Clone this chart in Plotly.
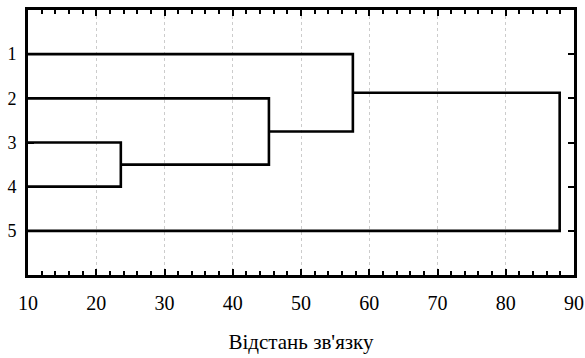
import plotly.graph_objects as go

# Data
leaf_labels = ["1", "2", "3", "4", "5"]
leaf_pos = [1, 2, 3, 4, 5]
link_a = [2, 1, 0, 7]      # child index (0-4 leaves, 5+k = k-th merge)
link_b = [3, 5, 6, 4]
link_dist = [23.6, 45.3, 57.6, 87.9]
x_ticks = [10, 20, 30, 40, 50, 60, 70, 80, 90]
x_label = "Відстань зв'язку"
x_min = 10

# Build dendrogram segments
node_x = [x_min] * len(leaf_pos)
node_y = list(leaf_pos)
xs, ys = [], []
for a, b, d in zip(link_a, link_b, link_dist):
    ya, yb = node_y[a], node_y[b]
    xs += [node_x[a], d, d, node_x[b], None]
    ys += [ya, ya, yb, yb, None]
    node_x.append(d)
    node_y.append((ya + yb) / 2)

fig = go.Figure()
fig.add_trace(go.Scatter(x=xs, y=ys, mode="lines",
                         line=dict(color="black", width=2.6),
                         hoverinfo="skip", showlegend=False))

serif = "'Liberation Serif', 'DejaVu Serif', serif"
fig.update_layout(
    width=585, height=358,
    margin=dict(l=28, r=11, t=10, b=83, autoexpand=False),
    paper_bgcolor="white", plot_bgcolor="white",
    showlegend=False,
    font=dict(family=serif, color="black"),
)
fig.update_xaxes(
    range=[10, 90], tickvals=x_ticks, ticktext=[str(v) for v in x_ticks],
    ticks="inside", ticklen=6, tickwidth=2, tickcolor="black",
    minor=dict(dtick=2, ticks="inside", ticklen=4, tickwidth=2, tickcolor="black", showgrid=False),
    showline=True, linecolor="black", linewidth=3, mirror="ticks",
    showgrid=True, gridcolor="#cccccc", gridwidth=1, griddash="3px,3px",
    zeroline=False, automargin=False, ticklabeloverflow="allow",
    tickfont=dict(family=serif, size=20, color="black"),
    ticklabelstandoff=8,
    title=dict(text=x_label, font=dict(family=serif, size=21, color="black"), standoff=22),
)
fig.update_yaxes(
    range=[6, 0], tickvals=leaf_pos, ticktext=leaf_labels,
    ticks="inside", ticklen=6, tickwidth=2, tickcolor="black",
    showline=True, linecolor="black", linewidth=3, mirror="ticks",
    showgrid=False, zeroline=False, automargin=False,
    tickfont=dict(family=serif, size=18, color="black"),
    ticklabelstandoff=5,
)

fig.write_html("out.html")
